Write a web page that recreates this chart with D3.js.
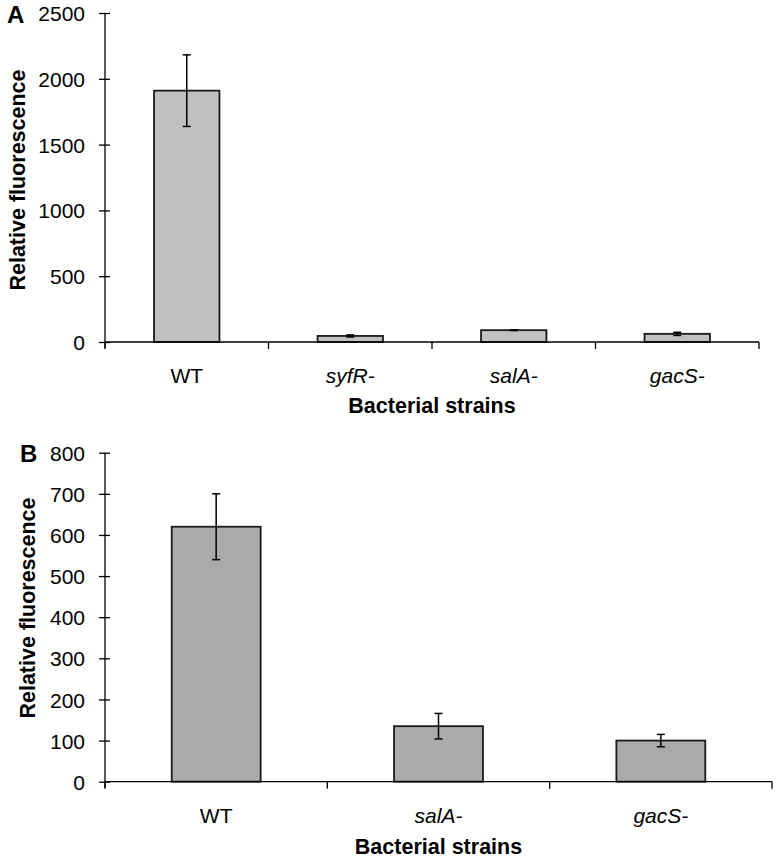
<!DOCTYPE html>
<html><head><meta charset="utf-8">
<script src="https://cdn.jsdelivr.net/npm/d3@7"></script>
<style>body{margin:0;background:#fff}svg{display:block}text{font-family:"Liberation Sans",Arial,sans-serif;fill:#000}</style>
</head><body>
<svg id="c" width="779" height="859"></svg>
<script>
// Panel A
const catsA = ["WT", "syfR-", "salA-", "gacS-"];
const valsA = [1910, 46, 90, 62];
const errsA = [272, 8, 3, 12];
const italicA = [false, true, true, true];
const ticksA = [0, 500, 1000, 1500, 2000, 2500];
// Panel B
const catsB = ["WT", "salA-", "gacS-"];
const valsB = [620, 135, 100];
const errsB = [80, 31, 15];
const italicB = [false, true, true];
const ticksB = [0, 100, 200, 300, 400, 500, 600, 700, 800];

const svg = d3.select("#c");

function panel(o) {
  const g = svg.append("g");
  const x = d3.scaleBand().domain(o.cats).range([o.x0, o.x1]).paddingInner(0.6).paddingOuter(0.3);
  const xb = d3.scaleBand().domain(o.cats).range([o.x0, o.x1]);
  const y = d3.scaleLinear().domain([0, o.max]).range([o.yb, o.yt]);

  // bars
  g.selectAll("rect.bar").data(o.vals).enter().append("rect")
    .attr("x", (d, i) => x(o.cats[i]))
    .attr("width", x.bandwidth())
    .attr("y", d => y(d))
    .attr("height", d => y(0) - y(d))
    .attr("fill", o.fill).attr("stroke", "#1a1a1a").attr("stroke-width", 1.8);

  // error bars
  o.vals.forEach((v, i) => {
    const cx = x(o.cats[i]) + x.bandwidth() / 2;
    const e = o.errs[i];
    g.append("line").attr("x1", cx).attr("x2", cx).attr("y1", y(v + e)).attr("y2", y(v - e)).attr("stroke", "#000").attr("stroke-width", 1.5);
    [v + e, v - e].forEach(t => g.append("line").attr("x1", cx - 4).attr("x2", cx + 4).attr("y1", y(t)).attr("y2", y(t)).attr("stroke", "#000").attr("stroke-width", 1.5));
  });

  // y axis
  const ya = g.append("g").attr("transform", `translate(${o.x0},0)`)
    .call(d3.axisLeft(y).tickValues(o.ticks).tickFormat(d3.format("d")).tickSize(6).tickSizeOuter(0).tickPadding(14));
  ya.select(".domain").attr("stroke", "#000").attr("stroke-width", 1.3).attr("d", `M0,${o.yt}V${o.yb + 6}`);
  ya.selectAll(".tick line").attr("x1", -6).attr("x2", 5).attr("stroke", "#000").attr("stroke-width", 1.3);
  ya.selectAll(".tick text").attr("font-size", 21).attr("dy", "0.36em").attr("fill", "#000").attr("font-family", "Liberation Sans, Arial, sans-serif");

  // x axis
  const xa = g.append("g").attr("transform", `translate(0,${o.yb})`);
  xa.append("line").attr("x1", o.x0).attr("x2", o.x1).attr("y1", 0).attr("y2", 0).attr("stroke", "#000").attr("stroke-width", 1.3);
  const edges = o.cats.map(c => xb(c)).concat([o.x1]);
  xa.selectAll("line.t").data(edges).enter().append("line")
    .attr("x1", d => d).attr("x2", d => d).attr("y1", 0).attr("y2", 7).attr("stroke", "#000").attr("stroke-width", 1.3);
  xa.selectAll("text.c").data(o.cats).enter().append("text")
    .attr("x", d => xb(d) + xb.bandwidth() / 2).attr("y", o.labY)
    .attr("text-anchor", "middle").attr("font-size", 21)
    .attr("font-style", (d, i) => o.italic[i] ? "italic" : "normal")
    .text(d => d);

  // titles
  g.append("text").attr("x", (o.x0 + o.x1) / 2).attr("y", o.yb + o.titleY)
    .attr("text-anchor", "middle").attr("font-size", 21.5).attr("font-weight", "bold").text("Bacterial strains");
  g.append("text").attr("transform", `translate(${o.ytX},${o.ytY}) rotate(-90)`)
    .attr("text-anchor", "middle").attr("font-size", 21.5).attr("font-weight", "bold").text("Relative fluorescence");
  g.append("text").attr("x", o.letX).attr("y", o.letY).attr("font-size", 24).attr("font-weight", "bold").text(o.letter);
}

panel({cats: catsA, vals: valsA, errs: errsA, italic: italicA, ticks: ticksA, max: 2500,
  x0: 105, x1: 759, yt: 13, yb: 342, fill: "#c0c0c0", labY: 41, titleY: 71, ytX: 25, ytY: 180, letter: "A", letX: 7, letY: 23});
panel({cats: catsB, vals: valsB, errs: errsB, italic: italicB, ticks: ticksB, max: 800,
  x0: 105, x1: 772, yt: 452.7, yb: 781.7, fill: "#aaaaaa", labY: 41, titleY: 72, ytX: 35, ytY: 608, letter: "B", letX: 20, letY: 462});
</script>
</body></html>
